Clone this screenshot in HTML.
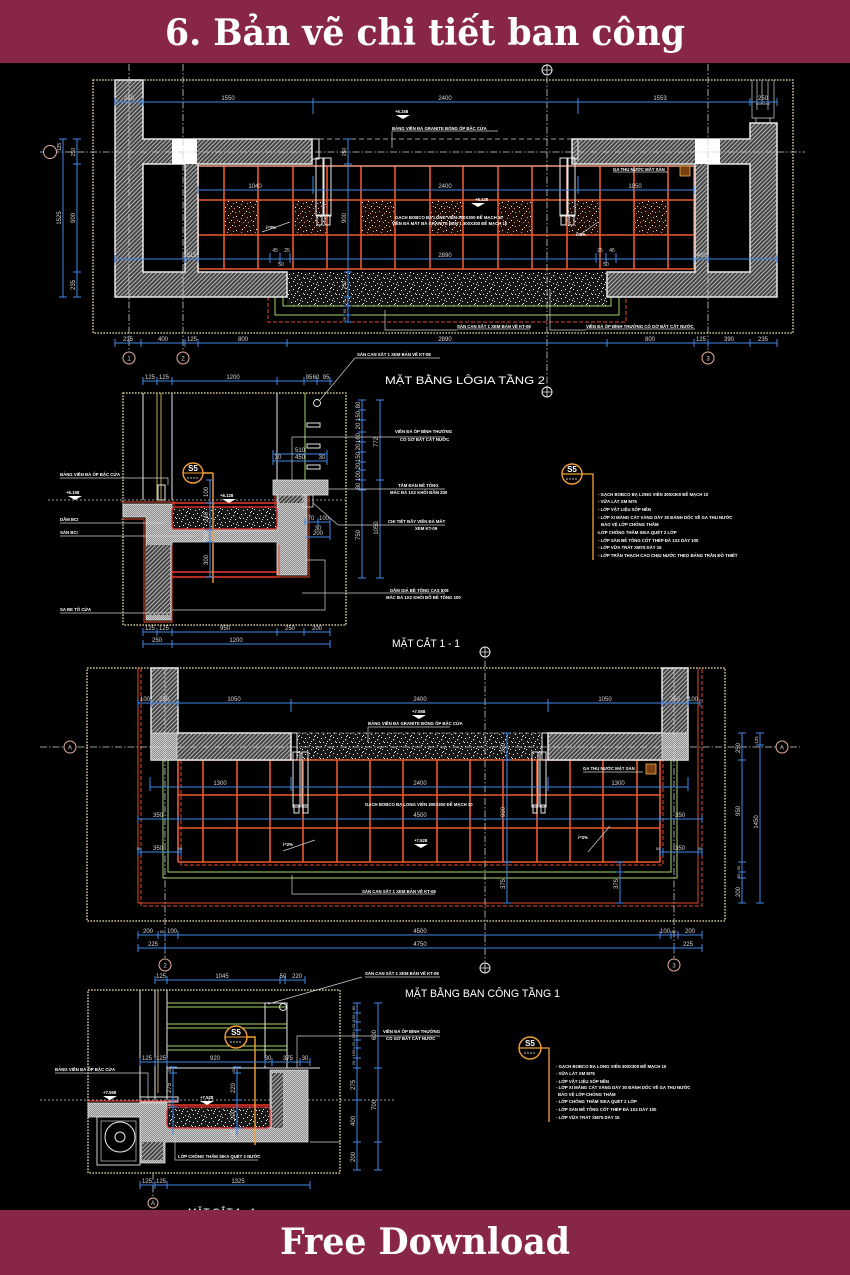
<!DOCTYPE html>
<html><head><meta charset="utf-8"><title>Ban ve chi tiet ban cong</title>
<style>
html,body{margin:0;padding:0;background:#000;width:850px;height:1275px;overflow:hidden}
svg{display:block}
.b{stroke:#3f88e6;stroke-width:1;fill:none}
.r{stroke:#ec5a2c;stroke-width:1.6;fill:none}
.rd{stroke:#e24a2a;stroke-width:1;fill:none;stroke-dasharray:4 2}
.rs{stroke:#e24a2a;stroke-width:1;fill:none}
.g{stroke:#a5d36a;stroke-width:1;fill:none}
.w{stroke:#e6e6e6;stroke-width:1;fill:none}
.wt{stroke:#d0d0d0;stroke-width:0.7;fill:none}
.dot{stroke:#efe4b0;stroke-width:1.3;fill:none;stroke-dasharray:1.6 1.4}
.ax{stroke:#cfcfcf;stroke-width:0.8;fill:none;stroke-dasharray:7 2 1.5 2}
.ac{stroke:#e8b0a0;stroke-width:1;fill:#000}
.y{stroke:#f2a03a;stroke-width:1.4;fill:none}
.d{fill:#d8d8d8;font-size:6px}
.l{fill:#fff;font-size:4.3px;font-weight:bold}
.t{fill:#fff;font-size:11px}
.hw{fill:url(#hatch);stroke:#e6e6e6;stroke-width:1.5}
.cw{fill:url(#cross);stroke:#ddd;stroke-width:0.8}
</style></head>
<body>
<svg width="850" height="1275" viewBox="0 0 850 1275" xmlns="http://www.w3.org/2000/svg" font-family="Liberation Sans, 'DejaVu Sans', sans-serif">
<defs>
<pattern id="hatch" width="3" height="3" patternUnits="userSpaceOnUse" patternTransform="rotate(45)">
<rect width="3" height="3" fill="#404040"/><rect width="1.1" height="3" fill="#b4b4b4"/>
</pattern>
<pattern id="cross" width="2" height="2" patternUnits="userSpaceOnUse">
<rect width="2" height="2" fill="#8a8a8a"/><rect width="1" height="1" fill="#cfcfcf"/><rect x="1" y="1" width="1" height="1" fill="#cfcfcf"/>
</pattern>
<pattern id="sp" width="16" height="16" patternUnits="userSpaceOnUse">
<rect width="16" height="16" fill="#161616"/>
<path fill="#e8e8e8" d="M1 2h1v1h-1z M5 1h1v1h-1z M9 3h1.2v1.2h-1.2z M13 1h1v1h-1z M3 6h1v1h-1z M7 5h1v1h-1z M11 7h1v1h-1z M15 5h1v1h-1z M1 10h1v1h-1z M5 9h1.2v1h-1.2z M9 11h1v1h-1z M13 10h1v1h-1z M3 14h1v1h-1z M7 13h1v1h-1z M11 15h1v1h-1z M14 13h1v1h-1z M6 7h1v1h-1z M12 12h1v1h-1z M0 6h1v1h-1z M10 0h1v1h-1z"/>
</pattern>
<pattern id="spr" width="14" height="14" patternUnits="userSpaceOnUse">
<rect width="14" height="14" fill="#1c0c08"/>
<path fill="#ff8c66" d="M1 1h1v1h-1z M6 3h1v1h-1z M11 2h1v1h-1z M3 8h1v1h-1z M9 7h1v1h-1z M13 10h1v1h-1z M5 12h1v1h-1z M10 12h1v1h-1z"/>
<path fill="#ffffff" d="M4 5h1v1h-1z M8 1h1v1h-1z M12 6h1v1h-1z M1 11h1v1h-1z M7 10h1v1h-1z"/>
</pattern>
</defs>

<rect width="850" height="1275" fill="#000"/>

<!-- ================= TOP PLAN ================= -->
<rect x="93" y="80" width="700" height="253" class="dot"/>

<!-- speckle strip & layers -->
<rect x="287" y="272" width="320" height="34" fill="url(#sp)"/>
<path class="g" d="M283 297V306H611V297 M275 297V315H619V297"/>
<path class="rd" d="M268 297V322H626V297"/>

<!-- tiles -->
<g fill="url(#spr)">
<rect x="224" y="200" width="34" height="35"/><rect x="293" y="200" width="34" height="35"/><rect x="361" y="200" width="34" height="35"/>
<rect x="430" y="200" width="33" height="35"/><rect x="498" y="200" width="34" height="35"/><rect x="567" y="200" width="33" height="35"/><rect x="634" y="200" width="34" height="35"/>
</g>
<path class="r" d="M198 166V269 M224 166V269 M258 166V269 M293 166V269 M327 166V269 M361 166V269 M395 166V269 M430 166V269 M463 166V269 M498 166V269 M532 166V269 M567 166V269 M600 166V269 M634 166V269 M668 166V269 M694 166V269 M198 166H694 M198 200H694 M198 235H694 M198 269H694"/>
<path d="M198 166H694" stroke="#f0d8c8" stroke-width="0.8"/>

<!-- walls -->
<path class="hw" fill-rule="evenodd" d="M115 80H143V139H312V164H198V272H287V297H115Z M143 164H185V272H143Z"/>
<rect x="172" y="139" width="25" height="25" fill="#fff"/>
<path class="hw" fill-rule="evenodd" d="M750 123H777V297H607V272H695V164H572V139H750Z M708 164H750V272H708Z"/>
<rect x="695" y="139" width="25" height="25" fill="#fff"/>
<path class="wt" d="M752 80V118H774V80 M757 80V110 M762 80V104 M768 80V110 M756 104H770 M756 118V123 M770 118V123"/>

<!-- axes top (over walls) -->
<path class="ax" d="M40 152H805 M129 64V352 M183 64V352 M547 64V387 M708 64V352"/>

<!-- doors / posts -->
<path d="M319 139H572" stroke="#cccccc" stroke-dasharray="5 3" stroke-width="0.8"/>
<path class="w" d="M312 139h7v20h-7z M316 158h7v58h-7z M324 158h7v58h-7z M317 215h5v10h-5z M325 215h5v10h-5z"/>
<path class="w" d="M572 139h6v20h-6z M560 158h7v58h-7z M568 158h7v58h-7z M561 215h5v10h-5z M569 215h5v10h-5z"/>

<!-- dims -->
<path class="b" d="M115 102H777 M115 98V106 M143 98V106 M313 98V114 M578 98V114 M750 98V106 M777 98V106
M198 190H694 M313 176V194 M578 176V194 M198 186V194 M694 186V194
M115 259H777 M115 255V263 M185 255V263 M198 255V263 M694 255V263 M708 255V263 M777 255V263 M270 253V263 M280 253V263 M290 253V263 M596 253V263 M606 253V263 M616 253V263
M115 343H777 M115 339V347 M141 339V347 M185 339V347 M198 339V347 M287 339V347 M607 339V347 M694 339V347 M708 339V347 M750 339V347 M777 339V347
M63 139V297 M59 139H67 M59 297H67 M77 139V297 M73 139H81 M73 164H81 M73 272H81 M73 297H81
M348 139V322 M344 139H352 M344 164H352 M344 272H352 M344 297H352 M344 306H352 M344 315H352 M344 322H352"/>
<g class="d" text-anchor="middle">
<text x="129" y="100">250</text><text x="228" y="100">1550</text><text x="445" y="100">2400</text><text x="660" y="100">1553</text><text x="763" y="100">250</text>
<text x="255" y="188">1040</text><text x="445" y="188">2400</text><text x="635" y="188">1050</text>
<text x="190" y="257">1515</text><text x="445" y="257">2890</text><text x="700" y="257">1400</text>
<text x="275" y="252" font-size="5">45</text><text x="287" y="252" font-size="5">25</text><text x="281" y="266" font-size="5">50</text>
<text x="600" y="252" font-size="5">25</text><text x="612" y="252" font-size="5">45</text><text x="606" y="266" font-size="5">50</text>
<text x="128" y="341">235</text><text x="163" y="341">400</text><text x="192" y="341">125</text><text x="243" y="341">800</text><text x="445" y="341">2890</text><text x="650" y="341">800</text><text x="701" y="341">125</text><text x="729" y="341">390</text><text x="763" y="341">235</text>
<text transform="translate(61,218) rotate(-90)">1525</text>
<text transform="translate(61,147) rotate(-90)" font-size="5">125</text>
<text transform="translate(75,152) rotate(-90)" font-size="5">250</text>
<text transform="translate(75,218) rotate(-90)">900</text>
<text transform="translate(75,285) rotate(-90)">235</text>
<text transform="translate(346,152) rotate(-90)" font-size="5">250</text>
<text transform="translate(346,218) rotate(-90)">900</text>
<text transform="translate(346,285) rotate(-90)" font-size="5">250</text>
<text transform="translate(346,302) rotate(-90)" font-size="4">75</text>
<text transform="translate(346,311) rotate(-90)" font-size="4">60</text>
<text transform="translate(346,319) rotate(-90)" font-size="4">25</text>
</g>

<!-- labels top plan -->
<g class="l">
<text x="395" y="113">+6.158</text>
<text x="392" y="130">BẢNG VIỀN ĐÁ GRANITE BÓNG ỐP BẬC CỬA</text>
<text x="395" y="219">GẠCH BOBCO BẠ LONG VIÊN 300X300 ĐỂ MẠCH 10</text>
<text x="392" y="225">VIỀN ĐÁ MẮT BÀ GRANITE ĐEN 1 300X300 ĐỂ MẠCH 10</text>
<text x="475" y="201">+6.128</text>
<text x="613" y="171">GA THU NƯỚC MẶT SÀN</text>
<text x="266" y="229">i=2%</text>
<text x="576" y="236">i=2%</text>
<text x="457" y="328">SÀN CAN SẮT 1 XEM BẢN VẼ KT-08</text>
<text x="586" y="328">VIỀN ĐÁ ỐP BÌNH THƯỜNG CÓ GỜ BẮT CẮT NƯỚC</text>
</g>
<path class="wt" d="M392 131H498 M392 131V148 M613 172H668 M457 329H530 M586 329H695 M550 290V330H586 M385 310V330H457 M262 232L290 222 M578 236L598 222"/>
<path d="M396 115h14l-7 4z M471 203h14l-7 4z" fill="#fff"/>
<rect x="680" y="166" width="10" height="10" fill="#7a4010" stroke="#f0b050" stroke-width="0.8"/>

<!-- axis circles top -->
<circle cx="50" cy="152" r="6.5" class="ac"/>
<circle cx="129" cy="358" r="6" class="ac"/><circle cx="183" cy="358" r="6" class="ac"/><circle cx="708" cy="358" r="6" class="ac"/>
<g class="d" text-anchor="middle"><text x="129" y="360.5">1</text><text x="183" y="360.5">2</text><text x="708" y="360.5">3</text></g>
<circle cx="547" cy="70" r="5" fill="#000" stroke="#eee" stroke-width="1"/><path d="M542 70H552 M547 65V75" stroke="#eee" stroke-width="0.8"/>
<circle cx="547" cy="392" r="5" fill="#000" stroke="#eee" stroke-width="1"/><path d="M542 392H552 M547 387V397" stroke="#eee" stroke-width="0.8"/>

<text x="385" y="384" class="t" textLength="160" lengthAdjust="spacingAndGlyphs">MẶT BẰNG LÔGIA TẦNG 2</text>

<!-- ================= SECTION 1-1 ================= -->
<rect x="123" y="393" width="223" height="232" class="dot"/>
<path d="M48 500H345" stroke="#cfcfcf" stroke-width="0.8" stroke-dasharray="2 2"/>
<path class="w" d="M143 393V500 M172 393V500"/>
<path d="M157 393V500 M161 393V500" stroke="#f0d070" stroke-width="0.8"/>
<path class="w" d="M158 485h7v15h-7z"/>
<path class="cw" d="M123 504H172V530H277V483H307V575H277V542H172V620H146V517H123Z"/>
<rect x="146" y="545" width="24" height="70" fill="url(#hatch)"/>
<rect x="279" y="490" width="25" height="13" fill="url(#hatch)"/>
<path class="rs" d="M121 502H174V528 M172 545V622H144V519H121 M279 545V577H172 M275 481V528 M309 481V577H279"/>
<rect x="273" y="480" width="55" height="15" class="cw"/>
<rect x="303" y="495" width="10" height="12" fill="none" stroke="#ddd" stroke-width="0.8"/>
<rect x="172" y="507" width="105" height="22" rx="3" fill="url(#sp)" stroke="#e33" stroke-width="1.2"/>
<path d="M172 503H277 M172 572H277 M172 577H277" stroke="#ee3a2a" stroke-width="1.4"/>
<path class="w" d="M277 393V480"/>
<path d="M305 393V480" stroke="#a5d36a" stroke-width="1"/>
<path class="w" d="M307 423h13v4h-13z M307 444h13v4h-13z M307 465h13v4h-13z"/>
<circle cx="317" cy="403" r="3.5" fill="none" stroke="#eee" stroke-width="0.9"/>
<path class="y" d="M213 473V583 M203 473H213"/>
<circle cx="193" cy="473" r="10" fill="#000" stroke="#f2a03a" stroke-width="1.4"/>
<path d="M183 473H203" stroke="#f2a03a" stroke-width="1"/>
<text x="193" y="471" fill="#fff" font-size="8" font-weight="bold" text-anchor="middle">S5</text>
<path d="M187 478H199" stroke="#fff" stroke-width="0.8" stroke-dasharray="2 1"/>
<path class="b" d="M143 381H333 M143 377V385 M157 377V385 M172 377V385 M277 377V385 M304 377V385 M317 377V385 M330 377V385
M143 632H330 M143 628V636 M157 628V636 M172 628V636 M277 628V636 M304 628V636 M330 628V636
M143 644H330 M143 640V648 M172 640V648 M330 640V648
M273 454H327 M273 461H327 M273 450V465 M327 450V465
M210 480V577 M206 480H214 M206 503H214 M206 530H214 M206 542H214 M206 577H214
M305 522H330 M305 537H330 M305 518V526 M318 518V526 M330 518V540
M362 400V578 M358 400H366 M358 410H366 M358 420H366 M358 432H366 M358 442H366 M358 452H366 M358 462H366 M358 470H366 M358 480H366 M358 490H366 M358 578H366
M380 400V578 M376 400H384 M376 480H384 M376 578H384"/>
<g class="d" text-anchor="middle" font-size="5">
<text x="150" y="379">125</text><text x="164" y="379">125</text><text x="233" y="379">1200</text><text x="309" y="379">95</text><text x="316" y="379">60</text><text x="326" y="379">95</text>
<text x="150" y="630">125</text><text x="164" y="630">125</text><text x="225" y="630">950</text><text x="290" y="630">250</text><text x="317" y="630">200</text>
<text x="157" y="642">250</text><text x="236" y="642">1200</text>
<text x="300" y="452">510</text><text x="300" y="459">450</text><text x="278" y="459">30</text><text x="322" y="459">30</text>
<text x="311" y="520">70</text><text x="324" y="520">100</text><text x="318" y="530">30</text><text x="318" y="535">200</text>
<text transform="translate(208,492) rotate(-90)">100</text>
<text transform="translate(208,517) rotate(-90)">240</text>
<text transform="translate(208,537) rotate(-90)">200</text>
<text transform="translate(208,560) rotate(-90)">300</text>
<text transform="translate(360,405) rotate(-90)">80</text>
<text transform="translate(360,416) rotate(-90)">150</text>
<text transform="translate(360,426) rotate(-90)">20</text>
<text transform="translate(360,438) rotate(-90)">160</text>
<text transform="translate(360,447) rotate(-90)">20</text>
<text transform="translate(360,457) rotate(-90)">150</text>
<text transform="translate(360,466) rotate(-90)">20</text>
<text transform="translate(360,476) rotate(-90)">100</text>
<text transform="translate(360,486) rotate(-90)">80</text>
<text transform="translate(360,535) rotate(-90)">750</text>
<text transform="translate(378,442) rotate(-90)">772</text>
<text transform="translate(378,528) rotate(-90)">1050</text>
</g>
<g class="l">
<text x="357" y="356">SÀN CAN SẮT 1 XEM BẢN VẼ KT-08</text>
<text x="60" y="476">BẢNG VIỀN ĐÁ ỐP BẬC CỬA</text>
<text x="66" y="494">+6.158</text>
<text x="60" y="521">DẦM BCI</text>
<text x="60" y="534">SÀN BCI</text>
<text x="60" y="611">SA BE TÔ CỬA</text>
<text x="220" y="497">+6.128</text>
<text x="395" y="433">VIỀN ĐÁ ỐP BÌNH THƯỜNG</text>
<text x="400" y="441">CÓ GỜ BẮT CẮT NƯỚC</text>
<text x="398" y="487">TẤM ĐAN BÊ TÔNG</text>
<text x="390" y="494">MÁC ĐÁ 1X2 KHỐI ĐẦM 200</text>
<text x="388" y="523">CHI TIẾT ĐẦY VIỀN ĐÁ MẮT</text>
<text x="415" y="530">XEM KT-09</text>
<text x="390" y="592">DẦM GIẢ BÊ TÔNG CAS 8X8</text>
<text x="386" y="599">MÁC ĐÁ 1X2 KHỐI ĐỔ BÊ TÔNG 100</text>
</g>
<path class="wt" d="M355 358H440 M355 358L320 400 M60 478H168V485 M60 523H165 M60 536H195 M60 613H170 M292 480V437H445 M328 489H445 M313 503L338 525H445 M302 593H445 M172 610H325V560H305"/>
<path d="M68 496h14l-7 4z M222 499h14l-7 4z" fill="#fff"/>
<text x="392" y="647" class="t" textLength="68" lengthAdjust="spacingAndGlyphs">MẶT CẮT 1 - 1</text>

<!-- S5 legend 1 -->
<circle cx="572" cy="474" r="10" fill="#000" stroke="#f2a03a" stroke-width="1.4"/>
<path d="M562 474H593V560" stroke="#f2a03a" stroke-width="1.3" fill="none"/>
<text x="572" y="472" fill="#fff" font-size="8" font-weight="bold" text-anchor="middle">S5</text>
<path d="M566 479H578" stroke="#fff" stroke-width="0.8" stroke-dasharray="2 1"/>
<g class="l">
<text x="598" y="496">- GẠCH BOBCO BẠ LONG VIÊN 300X300 ĐỂ MẠCH 10</text>
<text x="598" y="503">- VỮA LÁT XM M75</text>
<text x="598" y="511">- LỚP VẬT LIỆU XỐP NỀN</text>
<text x="598" y="519">- LỚP XI MĂNG CÁT VÀNG DÀY 30 ĐÁNH DỐC VỀ GA THU NƯỚC</text>
<text x="601" y="526">BẢO VỆ LỚP CHỐNG THẤM</text>
<text x="597" y="534">-LỚP CHỐNG THẤM SIKA QUÉT 2 LỚP</text>
<text x="598" y="542">- LỚP SÀN BÊ TÔNG CỐT THÉP ĐÁ 1X2 DÀY 100</text>
<text x="598" y="549">- LỚP VỮA TRÁT XM75 DÀY 15</text>
<text x="598" y="557">- LỚP TRẦN THẠCH CAO CHỊU NƯỚC THEO BẢNG TRẦN ĐỒ THIẾT</text>
</g>

<!-- ================= MIDDLE PLAN ================= -->
<rect x="87" y="668" width="638" height="253" class="dot"/>
<path class="rs" d="M138 668V903H698V668"/>
<path class="rd" d="M141 668V906H702V668"/>
<path class="g" d="M168 760V872H671V760 M163 760V878H677V760"/>
<rect x="297" y="733" width="245" height="27" fill="url(#sp)"/>
<path d="M297 733H542 M297 760H542" stroke="#aaa" stroke-width="0.7" stroke-dasharray="4 2"/>
<path class="r" d="M178 760V862 M203 760V862 M237 760V862 M270 760V862 M303 760V862 M337 760V862 M370 760V862 M403 760V862 M437 760V862 M470 760V862 M503 760V862 M537 760V862 M570 760V862 M603 760V862 M637 760V862 M660 760V862 M178 760H660 M178 795H660 M178 828H660 M178 862H660"/>
<path class="rd" d="M181 760V865H663V760"/>
<path class="hw" d="M151 668H178V733H291V760H151Z"/>
<rect x="151" y="733" width="26" height="27" class="cw"/>
<path class="hw" d="M662 668H688V760H548V733H662Z"/>
<rect x="662" y="733" width="26" height="27" class="cw"/>
<path class="ax" d="M40 747H800 M165 668V958 M674 668V958 M485 648V962"/>
<path class="w" d="M291 733h6v27h-6z M542 733h6v27h-6z M293 752h7v55h-7z M302 752h6v55h-6z M294 805h5v8h-5z M303 805h5v8h-5z M532 752h6v55h-6z M540 752h6v55h-6z M533 805h4v8h-4z M541 805h4v8h-4z"/>
<path class="b" d="M138 703H700 M138 699V707 M151 699V707 M178 699V707 M291 699V712 M548 699V712 M662 699V707 M688 699V707 M700 699V707
M150 787H688 M150 777V791 M291 777V791 M548 777V791 M688 777V791
M138 819H702 M138 815V823 M178 815V823 M660 815V823 M702 815V823
M138 852H181 M660 852H702 M138 848V856 M141 848V856 M178 848V856 M181 848V856 M660 848V856 M663 848V856 M698 848V856 M702 848V856
M507 733V903 M503 733H511 M503 760H511 M503 862H511 M503 903H511
M620 862V903 M616 862H624 M616 872H624 M616 903H624
M138 935H702 M138 931V939 M158 931V939 M165 931V939 M178 931V939 M660 931V939 M671 931V939 M678 931V939 M702 931V939
M138 948H702 M138 944V952 M165 944V952 M674 944V952 M702 944V952
M742 733V903 M738 733H746 M738 760H746 M738 862H746 M738 872H746 M738 878H746 M738 903H746
M760 733V903 M756 733H764 M756 745H764 M756 903H764"/>
<g class="d" text-anchor="middle" font-size="5.5">
<text x="145" y="701">100</text><text x="164" y="701">250</text><text x="234" y="701">1050</text><text x="420" y="701">2400</text><text x="605" y="701">1050</text><text x="675" y="701">250</text><text x="693" y="701">100</text>
<text x="220" y="785">1300</text><text x="420" y="785">2400</text><text x="618" y="785">1300</text>
<text x="158" y="817">350</text><text x="420" y="817">4500</text><text x="680" y="817">350</text>
<text x="139" y="850" font-size="4">50</text><text x="158" y="850">350</text><text x="180" y="850" font-size="4">50</text>
<text x="658" y="850" font-size="4">50</text><text x="680" y="850">350</text><text x="700" y="850" font-size="4">50</text>
<text x="148" y="933">200</text><text x="162" y="933" font-size="4">50</text><text x="172" y="933">100</text><text x="420" y="933">4500</text><text x="665" y="933">100</text><text x="674" y="933" font-size="4">50</text><text x="690" y="933">200</text>
<text x="153" y="946">225</text><text x="420" y="946">4750</text><text x="688" y="946">225</text>
<text transform="translate(505,748) rotate(-90)">250</text>
<text transform="translate(505,812) rotate(-90)">900</text>
<text transform="translate(505,884) rotate(-90)">375</text>
<text transform="translate(618,884) rotate(-90)">375</text>
<text transform="translate(740,748) rotate(-90)">250</text>
<text transform="translate(740,811) rotate(-90)">950</text>
<text transform="translate(740,868) rotate(-90)" font-size="4">50</text>
<text transform="translate(740,876) rotate(-90)" font-size="4">50</text>
<text transform="translate(740,892) rotate(-90)">200</text>
<text transform="translate(758,740) rotate(-90)" font-size="4.5">125</text>
<text transform="translate(758,822) rotate(-90)">1450</text>
</g>
<g class="l">
<text x="412" y="713">+7.558</text>
<text x="368" y="725">BẢNG VIỀN ĐÁ GRANITE BÓNG ỐP BẬC CỬA</text>
<text x="365" y="806">GẠCH BOBCO BẠ LONG VIÊN 300X300 ĐỂ MẠCH 10</text>
<text x="414" y="842">+7.528</text>
<text x="283" y="846">i=2%</text>
<text x="578" y="839">i=2%</text>
<text x="583" y="770">GA THU NƯỚC MẶT SÀN</text>
<text x="362" y="893">SÀN CAN SẮT 1 XEM BẢN VẼ KT-08</text>
</g>
<path class="wt" d="M368 727H450 M368 727V742 M583 772H643 M292 875V894H435 M283 851L315 840 M588 852L610 826"/>
<path d="M412 715h14l-7 4z M414 844h14l-7 4z" fill="#fff"/>
<rect x="646" y="764" width="10" height="10" fill="#7a4010" stroke="#f0b050" stroke-width="0.8"/>
<circle cx="70" cy="747" r="6" class="ac"/><circle cx="782" cy="747" r="6" class="ac"/>
<circle cx="165" cy="965" r="6" class="ac"/><circle cx="674" cy="965" r="6" class="ac"/>
<g class="d" text-anchor="middle"><text x="70" y="749.5">A</text><text x="782" y="749.5">A</text><text x="165" y="967.5">2</text><text x="674" y="967.5">3</text></g>
<circle cx="485" cy="652" r="5" fill="#000" stroke="#eee" stroke-width="1"/><path d="M480 652H490 M485 647V657" stroke="#eee" stroke-width="0.8"/>
<circle cx="485" cy="968" r="5" fill="#000" stroke="#eee" stroke-width="1"/><path d="M480 968H490 M485 963V973" stroke="#eee" stroke-width="0.8"/>
<text x="405" y="997" class="t" textLength="155" lengthAdjust="spacingAndGlyphs">MẶT BẰNG BAN CÔNG TẦNG 1</text>

<!-- ================= BOTTOM SECTION ================= -->
<rect x="88" y="990" width="252" height="183" class="dot"/>
<path d="M40 1100H395" stroke="#cfcfcf" stroke-width="0.8" stroke-dasharray="2 2"/>
<path class="w" d="M140 990V1100 M155 990V1100 M167 990V1100"/>
<path d="M158 990V1093" stroke="#f0d070" stroke-width="0.8"/>
<path class="w" d="M140 1097H178V1102H140Z"/>
<path class="g" d="M167 1003H287 M167 1007H287 M167 1024H287 M167 1028H287 M167 1046H287 M167 1050H287"/>
<path class="w" d="M265 1003h22v65h-22z M167 1068H320"/>
<circle cx="283" cy="1007" r="3.5" fill="none" stroke="#eee" stroke-width="0.9"/>
<path class="cw" d="M88 1103H167V1128H270V1070H308V1142H165V1163H140V1117H88Z"/>
<rect x="272" y="1073" width="11" height="55" fill="url(#hatch)"/>
<rect x="142" y="1142" width="21" height="18" fill="url(#hatch)"/>
<rect x="167" y="1107" width="103" height="21" rx="3" fill="url(#sp)" stroke="#e33" stroke-width="1.2"/>
<path d="M167 1105H270" stroke="#ee3a2a" stroke-width="1.4"/>
<path d="M88 1101H178" stroke="#e33" stroke-width="1"/>
<rect x="97" y="1117" width="43" height="48" fill="#000" stroke="#e6e6e6" stroke-width="0.9"/>
<rect x="101" y="1121" width="35" height="40" fill="none" stroke="#e6e6e6" stroke-width="0.6"/>
<circle cx="120" cy="1137" r="15" fill="none" stroke="#eee" stroke-width="1"/>
<circle cx="120" cy="1137" r="5" fill="none" stroke="#eee" stroke-width="1"/>
<path class="y" d="M247 1037H255V1145"/>
<circle cx="236" cy="1037" r="11" fill="#000" stroke="#f2a03a" stroke-width="1.4"/>
<path d="M225 1037H247" stroke="#f2a03a" stroke-width="1"/>
<text x="236" y="1035" fill="#fff" font-size="8" font-weight="bold" text-anchor="middle">S5</text>
<path d="M230 1042H242" stroke="#fff" stroke-width="0.8" stroke-dasharray="2 1"/>
<path class="b" d="M155 980H305 M155 976V984 M167 976V984 M280 976V984 M285 976V984 M305 976V984
M140 1062H310 M140 1058V1066 M155 1058V1066 M167 1058V1066 M265 1058V1066 M272 1058V1066 M300 1058V1066 M310 1058V1066
M173 1067V1135 M169 1067H177 M169 1073H177 M169 1100H177 M169 1107H177
M237 1067V1135 M233 1067H241 M233 1073H241 M233 1100H241 M233 1128H241
M357 1003V1170 M353 1003H361 M353 1013H361 M353 1022H361 M353 1030H361 M353 1040H361 M353 1048H361 M353 1058H361 M353 1068H361 M353 1100H361 M353 1142H361 M353 1170H361
M378 1003V1170 M374 1003H382 M374 1068H382 M374 1142H382 M374 1170H382
M140 1185H310 M140 1181V1189 M155 1181V1189 M167 1181V1189 M310 1181V1189"/>
<g class="d" text-anchor="middle" font-size="5">
<text x="161" y="978">125</text><text x="222" y="978">1045</text><text x="283" y="978">50</text><text x="297" y="978">220</text>
<text x="147" y="1060">125</text><text x="161" y="1060">125</text><text x="215" y="1060">920</text><text x="268" y="1060">30</text><text x="288" y="1060">375</text><text x="305" y="1060">30</text>
<text x="147" y="1183">125</text><text x="161" y="1183">125</text><text x="238" y="1183">1325</text>
<text transform="translate(171,1070) rotate(-90)" font-size="4">30</text>
<text transform="translate(171,1088) rotate(-90)">275</text>
<text transform="translate(171,1104) rotate(-90)" font-size="4">50</text>
<text transform="translate(235,1070) rotate(-90)" font-size="4">30</text>
<text transform="translate(235,1088) rotate(-90)">220</text>
<text transform="translate(235,1115) rotate(-90)">200</text>
<text transform="translate(235,1135) rotate(-90)">150</text>
<text transform="translate(355,1008) rotate(-90)" font-size="4">80</text>
<text transform="translate(355,1018) rotate(-90)" font-size="4">150</text>
<text transform="translate(355,1026) rotate(-90)" font-size="4">20</text>
<text transform="translate(355,1035) rotate(-90)" font-size="4">150</text>
<text transform="translate(355,1044) rotate(-90)" font-size="4">20</text>
<text transform="translate(355,1053) rotate(-90)" font-size="4">150</text>
<text transform="translate(355,1063) rotate(-90)" font-size="4">20</text>
<text transform="translate(355,1085) rotate(-90)">275</text>
<text transform="translate(355,1121) rotate(-90)">400</text>
<text transform="translate(355,1157) rotate(-90)">200</text>
<text transform="translate(376,1035) rotate(-90)">600</text>
<text transform="translate(376,1105) rotate(-90)">700</text>
</g>
<g class="l">
<text x="365" y="975">SÀN CAN SẮT 1 XEM BẢN VẼ KT-08</text>
<text x="55" y="1071">BẢNG VIỀN ĐÁ ỐP BẬC CỬA</text>
<text x="103" y="1094">+7.558</text>
<text x="200" y="1099">+7.528</text>
<text x="178" y="1158">LỚP CHỐNG THẤM SIKA QUÉT 2 NƯỚC</text>
<text x="383" y="1033">VIỀN ĐÁ ỐP BÌNH THƯỜNG</text>
<text x="386" y="1040">CÓ GỜ BẮT CẮT NƯỚC</text>
</g>
<path class="wt" d="M365 977H440 M362 977L268 1004 M55 1073H148V1100 M178 1160H258 M175 1135V1160H178 M297 1068V1036H440 M310 1142H340"/>
<path d="M103 1096h14l-7 4z M200 1101h14l-7 4z" fill="#fff"/>
<path class="ax" d="M153 1173V1197"/>
<circle cx="153" cy="1203" r="5" class="ac"/>
<text x="153" y="1205" class="d" font-size="5" text-anchor="middle">A</text>
<text x="188" y="1216" class="t" textLength="68" lengthAdjust="spacingAndGlyphs">MẶT CẮT 1 - 1</text>

<!-- S5 legend 2 -->
<circle cx="530" cy="1048" r="11" fill="#000" stroke="#f2a03a" stroke-width="1.4"/>
<path d="M519 1048H549V1122" stroke="#f2a03a" stroke-width="1.3" fill="none"/>
<text x="530" y="1046" fill="#fff" font-size="8" font-weight="bold" text-anchor="middle">S5</text>
<path d="M524 1053H536" stroke="#fff" stroke-width="0.8" stroke-dasharray="2 1"/>
<g class="l">
<text x="556" y="1068">- GẠCH BOBCO BẠ LONG VIÊN 300X300 ĐỂ MẠCH 10</text>
<text x="556" y="1075">- VỮA LÁT XM M75</text>
<text x="556" y="1083">- LỚP VẬT LIỆU XỐP NỀN</text>
<text x="556" y="1089">- LỚP XI MĂNG CÁT VÀNG DÀY 30 ĐÁNH DỐC VỀ GA THU NƯỚC</text>
<text x="558" y="1096">BẢO VỆ LỚP CHỐNG THẤM</text>
<text x="556" y="1103">- LỚP CHỐNG THẤM SIKA QUÉT 2 LỚP</text>
<text x="556" y="1111">- LỚP SÀN BÊ TÔNG CỐT THÉP ĐÁ 1X2 DÀY 100</text>
<text x="556" y="1119">- LỚP VỮA TRÁT XM75 DÀY 15</text>
</g>

<!-- ================= HEADER / FOOTER ================= -->
<rect x="0" y="0" width="850" height="63" fill="#882645"/>
<text x="165" y="45" fill="#fff" font-family="'DejaVu Serif', 'Liberation Serif', serif" font-weight="bold" font-size="36" textLength="520" lengthAdjust="spacingAndGlyphs">6. Bản vẽ chi tiết ban công</text>
<rect x="0" y="1210" width="850" height="65" fill="#882645"/>
<text x="280" y="1254" fill="#fff" font-family="'DejaVu Serif', 'Liberation Serif', serif" font-weight="bold" font-size="36" textLength="290" lengthAdjust="spacingAndGlyphs">Free Download</text>
</svg>
</body></html>
